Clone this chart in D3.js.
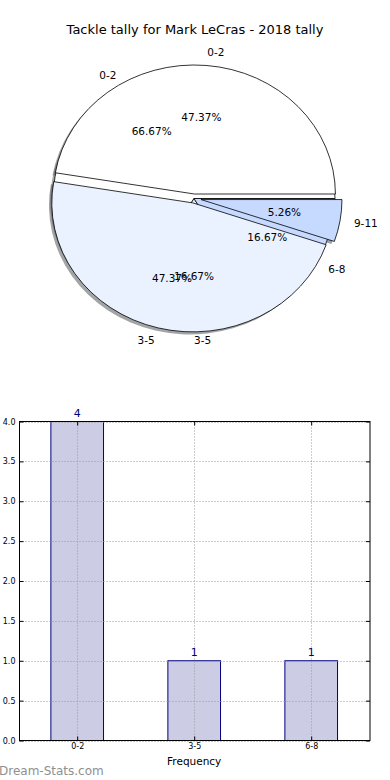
<!DOCTYPE html>
<html>
<head>
<meta charset="utf-8">
<script src="https://cdn.jsdelivr.net/npm/d3@7"></script>
<style>
  body { margin: 0; background: #fff; }
  svg { display: block; font-family: "DejaVu Sans", sans-serif; }
</style>
</head>
<body>
<div id="chart"></div>
<script>
// pie drawn twice on the same axes (old tally, then current)
let pie_labels_a = ["0-2", "3-5", "9-11"];
let pie_values_a = [9, 9, 1];
let pie_explode_a = [0.035, 0.035, 0.05];

let pie_labels_b = ["0-2", "3-5", "6-8"];
let pie_values_b = [4, 1, 1];
let pie_explode_b = [0, 0, 0];

let pie_colors = ["#ffffff", "#ebf2ff", "#c6d9ff"];

let bar_labels = ["0-2", "3-5", "6-8"];
let bar_values = [4, 1, 1];
let y_ticks = [0, 0.5, 1, 1.5, 2, 2.5, 3, 3.5, 4];

let width = 390;
let height = 780;

let svg = d3.select("#chart")
    .append("svg")
    .attr("width", width)
    .attr("height", height);

svg.append("text")
    .attr("x", 195)
    .attr("y", 34)
    .attr("text-anchor", "middle")
    .style("font-size", "13px")
    .attr("fill", "#000")
    .text("Tackle tally for Mark LeCras - 2018 tally");

// ---------- pie ----------
let cx = 194, cy = 198.5, rx = 141, ry = 129;
let sx = rx / ry;

// matplotlib starts at 3 o'clock and goes counter clockwise
let pie = d3.pie()
    .sort(null)
    .startAngle(Math.PI / 2)
    .endAngle(Math.PI / 2 - 2 * Math.PI);

let arc = d3.arc().innerRadius(0).outerRadius(ry);

function build(values, labels, explode) {
    let total = d3.sum(values);
    return pie(values).map(function(d, i) {
        let mid = (d.startAngle + d.endAngle) / 2;
        return {
            arc: d,
            mid: mid,
            ex: explode[i],
            label: labels[i],
            color: pie_colors[i],
            pct: (100 * values[i] / total).toFixed(2) + "%"
        };
    });
}

let wedges_b = build(pie_values_b, pie_labels_b, pie_explode_b);
let wedges_a = build(pie_values_a, pie_labels_a, pie_explode_a);
let all_wedges = wedges_b.concat(wedges_a);

function offset(d) {
    return [d.ex * ry * Math.sin(d.mid), -d.ex * ry * Math.cos(d.mid)];
}

function darker(c) {
    let rgb = d3.rgb(c);
    return d3.rgb(rgb.r * 0.3, rgb.g * 0.3, rgb.b * 0.3).toString();
}

let pie_g = svg.append("g")
    .attr("transform", "translate(" + cx + "," + cy + ") scale(" + sx + ",1)");

let shadow_dx = -0.02 * ry, shadow_dy = 0.02 * ry;

// shadows sit below every wedge
pie_g.selectAll(".shadow")
    .data(all_wedges)
    .enter()
    .append("path")
    .attr("class", "shadow")
    .attr("transform", function(d) {
        let o = offset(d);
        return "translate(" + (o[0] + shadow_dx) + "," + (o[1] + shadow_dy) + ")";
    })
    .attr("d", function(d) { return arc(d.arc); })
    .attr("fill", function(d) { return darker(d.color); })
    .attr("fill-opacity", 0.5);

pie_g.selectAll(".wedge")
    .data(all_wedges)
    .enter()
    .append("path")
    .attr("class", "wedge")
    .attr("transform", function(d) {
        let o = offset(d);
        return "translate(" + o[0] + "," + o[1] + ")";
    })
    .attr("d", function(d) { return arc(d.arc); })
    .attr("fill", function(d) { return d.color; })
    .attr("stroke", "#000")
    .attr("stroke-width", 0.8)
    .attr("vector-effect", "non-scaling-stroke");

svg.selectAll(".pie-label")
    .data(all_wedges)
    .enter()
    .append("text")
    .attr("class", "pie-label")
    .attr("x", function(d) { return cx + (d.ex + 1.1) * rx * Math.sin(d.mid); })
    .attr("y", function(d) { return cy - (d.ex + 1.1) * ry * Math.cos(d.mid); })
    .attr("dy", "0.35em")
    .attr("text-anchor", function(d) { return Math.sin(d.mid) > -1e-6 ? "start" : "end"; })
    .style("font-size", "10.5px")
    .text(function(d) { return d.label; });

svg.selectAll(".pie-pct")
    .data(all_wedges)
    .enter()
    .append("text")
    .attr("class", "pie-pct")
    .attr("x", function(d) { return cx + (d.ex + 0.6) * rx * Math.sin(d.mid); })
    .attr("y", function(d) { return cy - (d.ex + 0.6) * ry * Math.cos(d.mid); })
    .attr("dy", "0.35em")
    .attr("text-anchor", "middle")
    .style("font-size", "10.5px")
    .text(function(d) { return d.pct; });

// ---------- bar chart ----------
let ax_left = 19.5, ax_right = 370, ax_top = 421.5, ax_bottom = 740.5;

let xScale = d3.scaleLinear()
    .domain([-0.5, 2.5])
    .range([ax_left - 0.8, ax_right - 0.3]);

let yScale = d3.scaleLinear()
    .domain([0, 4])
    .range([ax_bottom, ax_top]);

let bar_w = 0.45;

let bars = svg.append("g");

bars.selectAll("rect")
    .data(bar_values)
    .enter()
    .append("rect")
    .attr("x", function(d, i) { return xScale(i - bar_w / 2); })
    .attr("y", function(d) { return yScale(d); })
    .attr("width", xScale(bar_w) - xScale(0))
    .attr("height", function(d) { return yScale(0) - yScale(d); })
    .attr("fill", "#cccce4")
    .attr("stroke", "#000080")
    .attr("stroke-width", 1);

// grid above the bars
let grid = svg.append("g")
    .attr("stroke", "#9a9a9a")
    .attr("stroke-width", 1)
    .attr("stroke-dasharray", "1,2");

grid.selectAll(".hgrid")
    .data(y_ticks)
    .enter()
    .append("line")
    .attr("x1", ax_left)
    .attr("x2", ax_right)
    .attr("y1", function(d) { return Math.round(yScale(d)) + 0.5; })
    .attr("y2", function(d) { return Math.round(yScale(d)) + 0.5; });

grid.selectAll(".vgrid")
    .data(bar_labels)
    .enter()
    .append("line")
    .attr("x1", function(d, i) { return Math.round(xScale(i)) + 0.5; })
    .attr("x2", function(d, i) { return Math.round(xScale(i)) + 0.5; })
    .attr("y1", ax_top)
    .attr("y2", ax_bottom);

svg.append("rect")
    .attr("x", ax_left)
    .attr("y", ax_top)
    .attr("width", ax_right - ax_left)
    .attr("height", ax_bottom - ax_top)
    .attr("fill", "none")
    .attr("stroke", "#000")
    .attr("stroke-width", 1);

// inward ticks on all four sides
let y_axis_l = svg.append("g")
    .attr("transform", "translate(" + ax_left + ",0)")
    .call(d3.axisLeft(yScale).tickValues(y_ticks).tickSize(-4).tickPadding(4)
        .tickFormat(d3.format(".1f")));
let y_axis_r = svg.append("g")
    .attr("transform", "translate(" + ax_right + ",0)")
    .call(d3.axisRight(yScale).tickValues(y_ticks).tickSize(-4).tickFormat(""));
let x_axis_b = svg.append("g")
    .attr("transform", "translate(0," + ax_bottom + ")")
    .call(d3.axisBottom(xScale).tickValues([0, 1, 2]).tickSize(-4).tickPadding(3)
        .tickFormat(function(d) { return bar_labels[d]; }));
let x_axis_t = svg.append("g")
    .attr("transform", "translate(0," + ax_top + ")")
    .call(d3.axisTop(xScale).tickValues([0, 1, 2]).tickSize(-4).tickFormat(""));

[y_axis_l, y_axis_r, x_axis_b, x_axis_t].forEach(function(ax) {
    ax.select(".domain").remove();
    ax.selectAll("line").attr("stroke", "#000");
    ax.selectAll("text")
        .attr("fill", "#000")
        .style("font-family", "DejaVu Sans, sans-serif")
        .style("font-size", "8px");
});

svg.selectAll(".bar-value")
    .data(bar_values)
    .enter()
    .append("text")
    .attr("class", "bar-value")
    .attr("x", function(d, i) { return xScale(i); })
    .attr("y", function(d) { return yScale(d) - 5; })
    .attr("text-anchor", "middle")
    .attr("fill", "#000080")
    .style("font-size", "11px")
    .text(function(d) { return d; });

svg.append("text")
    .attr("x", xScale(1))
    .attr("y", 765)
    .attr("text-anchor", "middle")
    .style("font-size", "10.5px")
    .text("Frequency");

svg.append("text")
    .attr("x", -1)
    .attr("y", 775)
    .attr("fill", "#8f8f8f")
    .style("font-size", "12px")
    .text("Dream-Stats.com");
</script>
</body>
</html>
